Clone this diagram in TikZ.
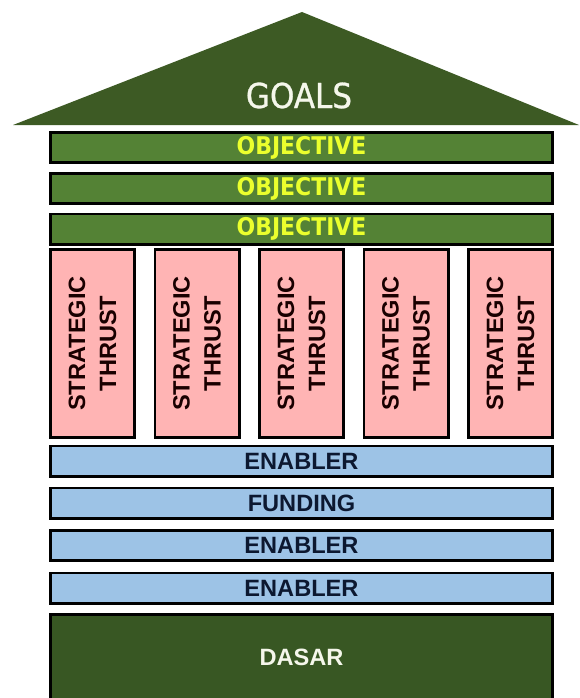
\documentclass[tikz,border=0pt]{standalone}
\usepackage{fontspec}
\setmainfont{Liberation Sans}
\newfontfamily\condfont{DejaVu Sans Condensed}
\newfontfamily\goalsfont[FakeBold=0.8]{DejaVu Sans Condensed}
\definecolor{roofgreen}{RGB}{61,90,36}
\definecolor{objgreen}{RGB}{84,130,53}
\definecolor{basegreen}{RGB}{56,87,35}
\definecolor{objyellow}{RGB}{235,255,45}
\definecolor{thrustpink}{RGB}{255,180,180}
\definecolor{enblue}{RGB}{157,195,230}
\definecolor{ennavy}{RGB}{12,24,48}
\definecolor{offwhite}{RGB}{245,247,235}
\begin{document}
\begin{tikzpicture}[x=1pt,y=-1pt,
  bar/.style={draw=black, line width=2.6pt, minimum width=502.4pt, minimum height=30.4pt, inner sep=0pt},
  objbar/.style={bar, fill=objgreen, text=objyellow, font=\condfont\bfseries\fontsize{24.4}{24}\selectfont},
  enbar/.style={bar, fill=enblue, text=ennavy, font=\bfseries\fontsize{23.6}{24}\selectfont},
  pillar/.style={draw=black, line width=2.6pt, fill=thrustpink, minimum width=84.4pt, minimum height=188.4pt, inner sep=0pt},
  thrusttext/.style={rotate=90, align=center, text=black!90!red, inner sep=0pt, font=\bfseries\fontsize{23.6}{31}\selectfont},
  basebox/.style={draw=black, line width=2.6pt, fill=basegreen, minimum width=502.4pt, minimum height=110pt, inner sep=0pt},
  basetext/.style={text=offwhite, inner sep=0pt, font=\bfseries\fontsize{23.6}{24}\selectfont},
  goalstext/.style={text=offwhite, inner sep=0pt, font=\goalsfont\fontsize{34.5}{36}\selectfont}
]
\useasboundingbox (0,0) rectangle (579,698);
\clip (0,0) rectangle (579,698);
\fill[white] (0,0) rectangle (579,698);
% roof
\coordinate (rl) at (13,125);
\coordinate (ra) at (302,12);
\coordinate (rr) at (579,125);
\fill[roofgreen] (rl) -- (ra) -- (rr) -- cycle;
\node[goalstext] (goals) at (299,95.5) {GOALS};
% objectives
\node[objbar] (o1) at (301.5,147.5) {OBJECTIVE};
\node[objbar] (o2) at (301.5,188.5) {OBJECTIVE};
\node[objbar] (o3) at (301.5,229) {OBJECTIVE};
% pillars
\foreach \i/\x in {1/92.5,2/197,3/301.5,4/406,5/510.5}{
  \node[pillar] (p\i) at (\x,343.5) {};
  \node[thrusttext] (t\i) at (p\i.center) {STRATEGIC\\THRUST};
}
% enablers
\node[enbar] (e1) at (301.5,461) {ENABLER};
\node[enbar] (e2) at (301.5,503) {FUNDING};
\node[enbar] (e3) at (301.5,545.5) {ENABLER};
\node[enbar] (e4) at (301.5,588) {ENABLER};
% base
\node[basebox] (base) at (301.5,669.3) {};
\node[basetext] (dasar) at (301.5,657) {DASAR};
\end{tikzpicture}
\end{document}
